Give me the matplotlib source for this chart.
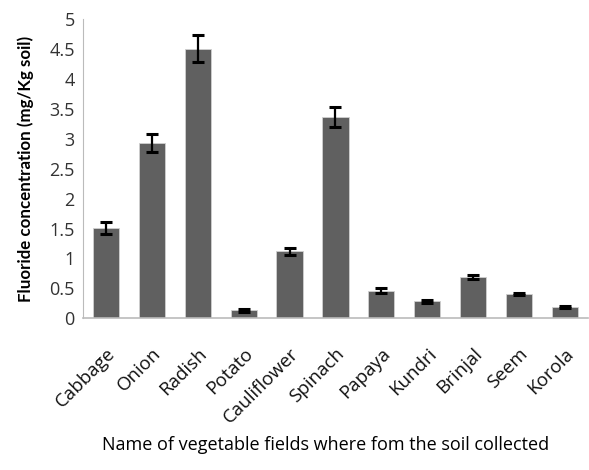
import matplotlib
matplotlib.use("Agg")
import matplotlib.pyplot as plt
import numpy as np

# Values
vegetables = ["Cabbage", "Onion", "Radish", "Potato", "Cauliflower", "Spinach",
              "Papaya", "Kundri", "Brinjal", "Seem", "Korola"]
fluoride = [1.51, 2.93, 4.51, 0.13, 1.12, 3.36, 0.46, 0.28, 0.69, 0.40, 0.19]
errors = [0.10, 0.15, 0.22, 0.02, 0.06, 0.17, 0.04, 0.02, 0.035, 0.02, 0.015]
yticks = [0, 0.5, 1, 1.5, 2, 2.5, 3, 3.5, 4, 4.5, 5]

plt.rcParams['font.family'] = ['Open Sans', 'DejaVu Sans']

fig = plt.figure(figsize=(5.89, 4.70), dpi=100)
ax = fig.add_axes([0.141, 0.323, 0.857, 0.636])

x = np.arange(len(vegetables))
ax.bar(x, fluoride, width=0.57, color="#606060", edgecolor="#d0d0d0", linewidth=0.6,
       yerr=errors, error_kw=dict(ecolor="black", elinewidth=1.6, capsize=4.5, capthick=2.2))

ax.set_xlim(-0.5, len(vegetables) - 0.5)
ax.set_ylim(0, 5)
ax.set_yticks(yticks)
ax.set_yticklabels([f"{v:g}" for v in yticks], fontsize=13, color="#333333")
ax.set_xticks(x)
ax.set_xticklabels(vegetables, rotation=45, ha="right", va="top",
                   rotation_mode="anchor", fontsize=13.5, color="#111111")
ax.tick_params(axis="y", length=0, pad=6)
ax.tick_params(axis="x", length=0, pad=19)

for s in ["top", "right"]:
    ax.spines[s].set_visible(False)
ax.spines["left"].set_color("#bbbbbb")
ax.spines["bottom"].set_color("#bbbbbb")
ax.spines["bottom"].set_linewidth(1.2)

ax.set_ylabel("Fluoride concentration (mg/Kg soil)", fontsize=12.2, fontweight="bold",
              family=["Lato", "DejaVu Sans"], labelpad=11)
fig.text(0.552, 0.053, "Name of vegetable fields where fom the soil collected",
         ha="center", va="center", fontsize=13)

fig.savefig("out.png", dpi=100)
